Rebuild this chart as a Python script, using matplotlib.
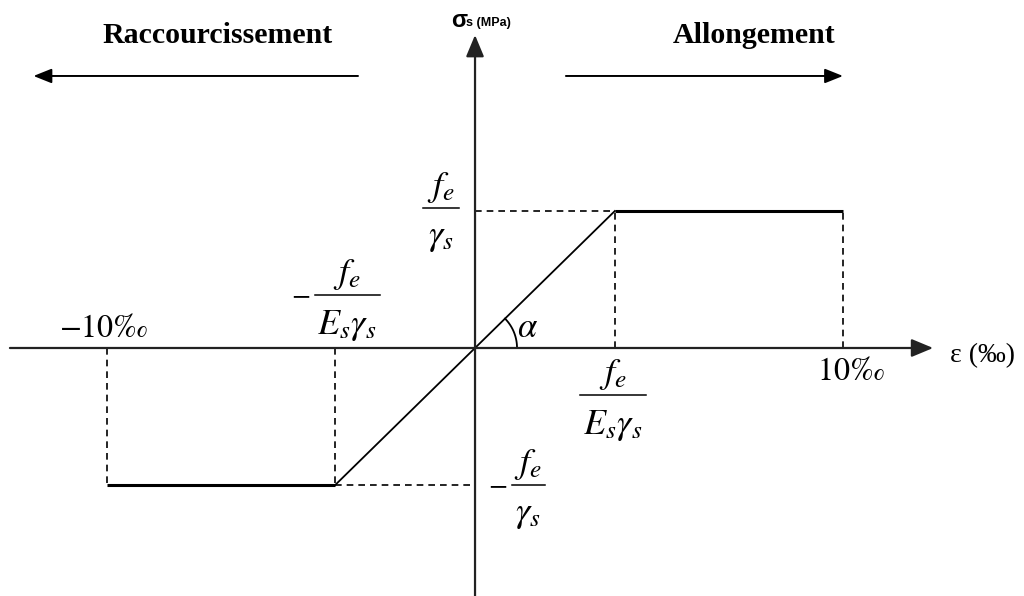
import numpy as np
import matplotlib
matplotlib.use("Agg")
import matplotlib.pyplot as plt

plt.rcParams['mathtext.fontset'] = 'stix'
plt.rcParams['font.family'] = ['Liberation Serif', 'DejaVu Serif']

# Diagramme contrainte-déformation de l'acier (élastique - parfaitement plastique)
eps_u = 10.0        # allongement limite (‰)
eps_y = 3.8         # fe / (Es * gamma_s) (‰)
sig_y = 348.0       # fe / gamma_s (MPa)

strain = [-eps_u, -eps_y, eps_y, eps_u]
stress = [-sig_y, -sig_y, sig_y, sig_y]

eps_labels = [r'$-10‰$', r'$10‰$']
num_label = r'$f_e$'
den_sig = r'$\gamma_s$'
den_eps = r'$E_s\gamma_s$'

fig = plt.figure(figsize=(10.24, 5.96), dpi=100)
ax = fig.add_axes([0, 0, 1, 1])
ax.set_xlim(-12.91, 14.92)
ax.set_ylim(-630, 884)
ax.axis('off')

ink = 'black'
axc = '#222222'
PT = 72 / 100  # points par pixel


def fraction(x, y, num, den, width, minus=False, dx=0, dy=0, size=26):
    """Fraction écrite à la main : numérateur, trait, dénominateur (décalages en pixels)."""
    kw = dict(xycoords='data', textcoords='offset points', fontsize=size, ha='center')
    ax.annotate(num, (x, y), xytext=(dx * PT, (dy + 3) * PT), va='bottom', **kw)
    ax.annotate(den, (x, y), xytext=(dx * PT, (dy - 13) * PT), va='top', **kw)
    # trait de fraction
    p = ax.transData.transform((x, y))
    a = ax.transData.inverted().transform([(p[0] + dx - width / 2, p[1] + dy),
                                           (p[0] + dx + width / 2, p[1] + dy)])
    ax.plot(a[:, 0], a[:, 1], color=ink, lw=1.1)
    if minus:
        ax.annotate(r'$-$', (x, y), xytext=((dx - width / 2 - 14) * PT, (dy - 1) * PT),
                    va='center', fontsize=20, ha='center',
                    xycoords='data', textcoords='offset points')


# axes avec flèches
ax.annotate('', xy=(12.45, 0), xytext=(-12.64, 0),
            arrowprops=dict(arrowstyle='-|>,head_length=0.6,head_width=0.25',
                            color=axc, lw=1.6, mutation_scale=22, shrinkA=0, shrinkB=0))
ax.annotate('', xy=(0, 795), xytext=(0, -630),
            arrowprops=dict(arrowstyle='-|>,head_length=0.6,head_width=0.25',
                            color=axc, lw=1.6, mutation_scale=22, shrinkA=0, shrinkB=0))

# loi de comportement
ax.plot(strain[:2], stress[:2], color=ink, lw=2.2, solid_capstyle='butt')
ax.plot(strain[2:], stress[2:], color=ink, lw=2.2, solid_capstyle='butt')
ax.plot(strain[1:3], stress[1:3], color=ink, lw=1.3)

# lignes de rappel
dash = dict(color=ink, lw=1.2, ls=(0, (4, 3)))
ax.plot([0, eps_y], [sig_y, sig_y], **dash)
ax.plot([eps_y, eps_y], [0, sig_y], **dash)
ax.plot([eps_u, eps_u], [0, sig_y], **dash)
ax.plot([-eps_u, -eps_u], [0, -sig_y], **dash)
ax.plot([-eps_y, -eps_y], [0, -sig_y], **dash)
ax.plot([-eps_y, 0], [-sig_y, -sig_y], **dash)

# angle alpha (arc tracé en pixels puis ramené aux unités des données)
fig.canvas.draw()
p0 = ax.transData.transform((0, 0))
p1 = ax.transData.transform((eps_y, sig_y))
alpha = np.arctan2(p1[1] - p0[1], p1[0] - p0[0])
r = 42
t = np.linspace(0, alpha, 40)
arc_px = np.column_stack([p0[0] + r * np.cos(t), p0[1] + r * np.sin(t)])
arc = ax.transData.inverted().transform(arc_px)
ax.plot(arc[:, 0], arc[:, 1], color=ink, lw=1.3)
ax.text(1.42, 50, r'$\alpha$', fontsize=25, ha='center', va='center')

# graduations
ax.text(-10.08, 48, eps_labels[0], fontsize=23, ha='center', va='center')
ax.text(10.2, -62, eps_labels[1], fontsize=23, ha='center', va='center')
fraction(0, sig_y, num_label, den_sig, 36, dx=-34, dy=3)
fraction(0, -sig_y, num_label, den_sig, 33, minus=True, dx=53, dy=0)
fraction(-eps_y, 0, num_label, den_eps, 65, minus=True, dx=12, dy=53)
fraction(eps_y, 0, num_label, den_eps, 66, dx=-2, dy=-47)

ax.text(12.9, -20, 'ε (‰)', fontsize=20, ha='left', va='center')
ax.text(-0.65, 833, 'σ', fontsize=17, fontweight='bold', family='Liberation Sans',
        ha='left', va='center')
ax.text(-0.24, 825, 's (MPa)', fontsize=9, fontweight='bold', family='Liberation Sans',
        ha='left', va='center')

# sens des déformations
ax.text(-7.0, 795, 'Raccourcissement', fontsize=21.5, fontweight='bold',
        ha='center', va='center')
ax.text(7.58, 795, 'Allongement', fontsize=21.5, fontweight='bold',
        ha='center', va='center')
ax.annotate('', xy=(-12.0, 691), xytext=(-3.18, 691),
            arrowprops=dict(arrowstyle='-|>,head_length=0.55,head_width=0.22',
                            color=ink, lw=1.4, mutation_scale=20, shrinkA=0, shrinkB=0))
ax.annotate('', xy=(10.0, 691), xytext=(2.47, 691),
            arrowprops=dict(arrowstyle='-|>,head_length=0.55,head_width=0.22',
                            color=ink, lw=1.4, mutation_scale=20, shrinkA=0, shrinkB=0))

fig.savefig('out.png', dpi=100)
